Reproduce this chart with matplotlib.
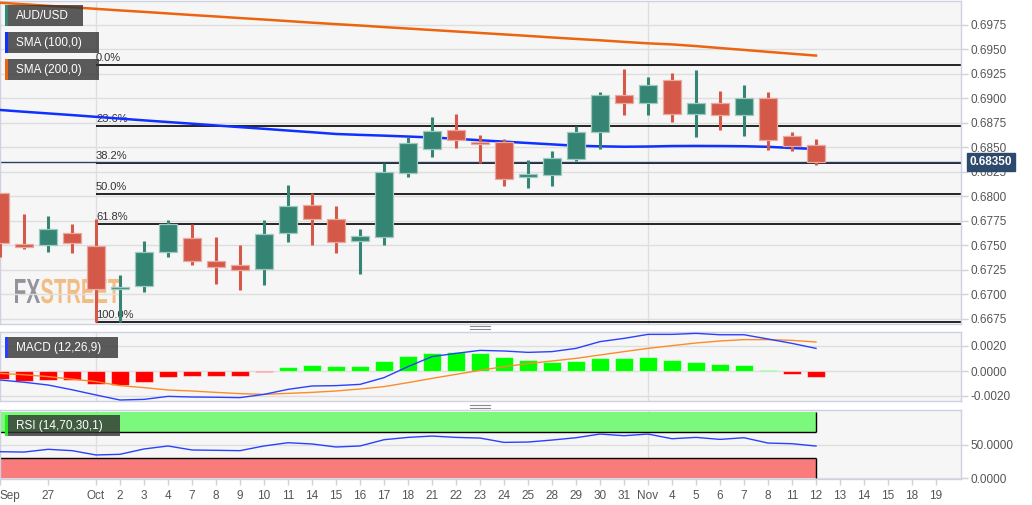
import numpy as np
import matplotlib
matplotlib.use('Agg')
import matplotlib.pyplot as plt
from matplotlib.patches import Rectangle, PathPatch
from matplotlib.textpath import TextPath
from matplotlib.font_manager import FontProperties
import matplotlib.transforms as mtransforms
from matplotlib.ticker import FormatStrFormatter
from matplotlib.lines import Line2D

plt.rcParams['font.family'] = ['Liberation Sans', 'DejaVu Sans']

# ---------------- data ----------------
x_labels = ['Sep', '', '27', '', 'Oct', '2', '3', '4', '7', '8', '9', '10', '11', '14', '15',
            '16', '17', '18', '21', '22', '23', '24', '25', '28', '29', '30', '31', 'Nov',
            '4', '5', '6', '7', '8', '11', '12', '13', '14', '15', '18', '19']

opens = [0.68031, 0.67507, 0.67497, 0.67619, 0.67487, 0.67050, 0.67083, 0.67426, 0.67572,
         0.67340, 0.67293, 0.67258, 0.67619, 0.67905, 0.67768, 0.67544, 0.67579, 0.68238,
         0.68480, 0.68673, 0.68548, 0.68554, 0.68194, 0.68214, 0.68375, 0.68650, 0.69034,
         0.68946, 0.69184, 0.68834, 0.68946, 0.68830, 0.69000, 0.68612, 0.68517]
highs = [0.68031, 0.67817, 0.67796, 0.67714, 0.67765, 0.67191, 0.67541, 0.67755, 0.67714,
         0.67582, 0.67500, 0.67755, 0.68112, 0.68028, 0.67898, 0.67663, 0.68334, 0.68599,
         0.68809, 0.68837, 0.68622, 0.68582, 0.68367, 0.68459, 0.68717, 0.69061, 0.69296,
         0.69211, 0.69255, 0.69286, 0.69071, 0.69133, 0.69061, 0.68653, 0.68585]
lows = [0.67378, 0.67456, 0.67432, 0.67415, 0.66711, 0.66715, 0.67023, 0.67381, 0.67296,
        0.67105, 0.67041, 0.67092, 0.67534, 0.67500, 0.67421, 0.67204, 0.67500, 0.68197,
        0.68401, 0.68493, 0.68334, 0.68105, 0.68085, 0.68105, 0.68354, 0.68480, 0.68827,
        0.68827, 0.68758, 0.68605, 0.68673, 0.68615, 0.68472, 0.68459, 0.68319]
closes = [0.67520, 0.67483, 0.67666, 0.67520, 0.67054, 0.67068, 0.67426, 0.67714, 0.67340,
          0.67279, 0.67242, 0.67612, 0.67895, 0.67765, 0.67531, 0.67592, 0.68245, 0.68544,
          0.68663, 0.68574, 0.68534, 0.68173, 0.68228, 0.68388, 0.68650, 0.69034, 0.68946,
          0.69130, 0.68834, 0.68946, 0.68830, 0.69000, 0.68571, 0.68513, 0.68350]

sma100 = [0.68878, 0.68860, 0.68843, 0.68826, 0.68808, 0.68790, 0.68772, 0.68755, 0.68738,
          0.68720, 0.68703, 0.68686, 0.68668, 0.68651, 0.68633, 0.68624, 0.68616, 0.68607,
          0.68597, 0.68584, 0.68569, 0.68555, 0.68541, 0.68527, 0.68513, 0.68507, 0.68503,
          0.68505, 0.68510, 0.68511, 0.68510, 0.68508, 0.68502, 0.68490, 0.68480]
sma200 = [0.69972, 0.69957, 0.69941, 0.69926, 0.69910, 0.69894, 0.69879, 0.69863, 0.69847,
          0.69832, 0.69816, 0.69801, 0.69785, 0.69769, 0.69754, 0.69740, 0.69724, 0.69709,
          0.69694, 0.69679, 0.69664, 0.69649, 0.69634, 0.69618, 0.69603, 0.69589, 0.69573,
          0.69558, 0.69547, 0.69530, 0.69510, 0.69491, 0.69471, 0.69452, 0.69433]

fib_high = 0.69334
fib_low = 0.66711
fib_ratios = [0.0, 0.236, 0.382, 0.5, 0.618, 1.0]
fib_labels = ['0.0%', '23.6%', '38.2%', '50.0%', '61.8%', '100.0%']
last_price = 0.68350

macd_line = [-0.00072, -0.00090, -0.00112, -0.00150, -0.00192, -0.00232, -0.00227, -0.00203,
             -0.00208, -0.00210, -0.00213, -0.00187, -0.00147, -0.00120, -0.00117, -0.00107,
             -0.00053, 0.00035, 0.00115, 0.00141, 0.00165, 0.00160, 0.00149, 0.00155,
             0.00181, 0.00235, 0.00261, 0.00293, 0.00293, 0.00301, 0.00290, 0.00290,
             0.00256, 0.00221, 0.00181]
signal_line = [-0.00019, -0.00030, -0.00045, -0.00065, -0.00085, -0.00117, -0.00133, -0.00152,
               -0.00160, -0.00171, -0.00181, -0.00187, -0.00179, -0.00171, -0.00160, -0.00144,
               -0.00125, -0.00093, -0.00059, -0.00027, 0.00005, 0.00035, 0.00059, 0.00080,
               0.00101, 0.00128, 0.00155, 0.00181, 0.00203, 0.00224, 0.00240, 0.00251,
               0.00251, 0.00245, 0.00232]
macd_hist = [-0.00064, -0.00080, -0.00075, -0.00075, -0.00101, -0.00112, -0.00085, -0.00048,
             -0.00043, -0.00040, -0.00037, -0.00008, 0.00029, 0.00045, 0.00040, 0.00040,
             0.00080, 0.00120, 0.00147, 0.00152, 0.00144, 0.00109, 0.00088, 0.00075,
             0.00083, 0.00104, 0.00104, 0.00112, 0.00091, 0.00075, 0.00056, 0.00048,
             0.00010, -0.00021, -0.00051]

rsi = [39.9, 39.4, 43.5, 41.5, 35.0, 36.0, 44.0, 48.5, 42.5, 42.0, 41.5, 48.5, 53.4, 51.5,
       47.0, 48.5, 57.9, 61.4, 63.4, 61.4, 60.4, 53.9, 54.4, 57.4, 60.9, 66.4, 63.9, 66.4,
       59.4, 61.4, 58.4, 60.9, 52.9, 51.9, 48.4]
rsi_upper, rsi_lower = 70, 30

# ---------------- layout ----------------
W, H = 1032, 505
fig = plt.figure(figsize=(W / 100, H / 100), dpi=100, facecolor='white')


def fx(x):
    return x / W


def fy(y):
    return 1 - y / H


def add_ax(top, bottom, right=961):
    return fig.add_axes([0, fy(bottom), fx(right), (bottom - top) / H])


ax = add_ax(1, 324)
axm = add_ax(332, 401)
axr = add_ax(410, 479)

n = len(opens)
idx = np.arange(n)
XMAX = 961 / 24.0
BG = '#f6f6f6'
GRID = '#dedede'
SPINE = '#cdd1e1'
TXT = '#555555'
GREEN = '#358574'
RED = '#d45948'

for a in (ax, axm, axr):
    a.set_facecolor(BG)
    a.set_xlim(0, XMAX)
    for s in a.spines.values():
        s.set_color(SPINE)
        s.set_linewidth(1)
    a.yaxis.tick_right()
    a.tick_params(axis='y', colors=SPINE, labelcolor=TXT, labelsize=8.5, length=5, width=1, pad=2)
    a.set_xticks([i for i, l in enumerate(x_labels) if l])
    a.axvline(4, color=GRID, lw=1, zorder=0)
    a.axvline(27, color=GRID, lw=1, zorder=0)
    a.set_axisbelow(True)

# ---------------- main price panel ----------------
ax.set_ylim(0.66694, 0.69990)
yt = np.arange(0.6675, 0.69751, 0.0025)
ax.set_yticks(yt)
ax.yaxis.set_major_formatter(FormatStrFormatter('%.4f'))
ax.grid(axis='y', color=GRID, lw=1)
ax.tick_params(axis='x', length=0, labelbottom=False)

# watermark
fp = FontProperties(family='Liberation Sans', weight='bold')


def watermark(txt, x0, width, color):
    tp = TextPath((0, 0), txt, size=1, prop=fp)
    ext = tp.get_extents()
    sx = width / ext.width
    sy = 25 / 0.716
    tr = mtransforms.Affine2D().translate(-ext.x0, 0).scale(sx / W, sy / H).translate(fx(x0), fy(303)) + fig.transFigure
    ax.add_patch(PathPatch(tp, transform=tr, facecolor=color, edgecolor='none', zorder=0.5))


watermark('FX', 15, 25, '#93939b')
watermark('STREET', 41, 79, '#f2bd84')

# fib levels
rng = fib_high - fib_low
for r, lab in zip(fib_ratios, fib_labels):
    lv = fib_high - r * rng
    ax.hlines(lv, 4, XMAX, color='black', lw=1.2, zorder=2)
    ax.annotate(lab, (4, lv), xytext=(0, 1.5), textcoords='offset points', fontsize=8,
                color='#333333', ha='left', va='bottom', zorder=2)

# SMAs
ax.plot(idx, sma200, color='#ec6410', lw=1.8, zorder=3)
ax.plot(idx, sma100, color='#1030ff', lw=1.8, zorder=3)

# current price line
ax.axhline(last_price, color='#2b3f63', lw=1, zorder=2)

# candles
o = np.array(opens); c = np.array(closes)
up = c >= o
cols = np.where(up, GREEN, RED)
edges = np.where(up, '#9ccabf', '#eba89e')
ax.vlines(idx, lows, highs, colors=cols, lw=2.2, zorder=4)
ax.bar(idx, np.maximum(np.abs(c - o), 0.00005), bottom=np.minimum(o, c), width=0.79,
       color=cols, edgecolor=edges, linewidth=0.9, zorder=5)

# price tag
trans = mtransforms.blended_transform_factory(ax.transAxes, ax.transData)
ax.text(1.009, last_price, '0.68350', transform=trans, color='white', fontsize=8.5,
        fontweight='bold', ha='left', va='center', zorder=20, clip_on=False,
        bbox=dict(boxstyle='square,pad=0.25', facecolor='#2d4a6c', edgecolor='#2d4a6c'))

# ---------------- MACD panel ----------------
axm.set_ylim(-0.0024, 0.00312)
axm.set_yticks([-0.002, 0.0, 0.002])
axm.yaxis.set_major_formatter(FormatStrFormatter('%.4f'))
axm.grid(axis='y', color=GRID, lw=1)
axm.tick_params(axis='x', length=0, labelbottom=False)
h = np.array(macd_hist)
hcols = np.where(h >= 0, '#00ff00', '#ff0000')
axm.bar(idx, h, width=0.79, color=hcols, edgecolor=(1, 1, 1, 0.5), linewidth=0.8, zorder=3)
axm.plot(idx, signal_line, color='#ff8a2a', lw=1, zorder=4)
axm.plot(idx, macd_line, color='#2a40ff', lw=1, zorder=4)

# ---------------- RSI panel ----------------
axr.set_ylim(-1.05, 102.5)
axr.set_yticks([0, 50])
axr.yaxis.set_major_formatter(FormatStrFormatter('%.4f'))
axr.grid(axis='y', color=GRID, lw=1)
axr.fill_between([-1, n - 1], rsi_upper, 99, color='#7cf97c', zorder=1, linewidth=0)
axr.fill_between([-1, n - 1], 0, rsi_lower, color='#f97b7b', zorder=1, linewidth=0)
axr.hlines([rsi_upper, rsi_lower], -1, n - 1, color='black', lw=1, zorder=2)
axr.vlines(n - 1, rsi_upper, 99, color='black', lw=1, zorder=2)
axr.vlines(n - 1, 0, rsi_lower, color='black', lw=1, zorder=2)
axr.plot(idx, rsi, color='#2a40ff', lw=1, zorder=3)
axr.set_xticklabels([l for l in x_labels if l])
axr.tick_params(axis='x', colors=SPINE, labelcolor=TXT, labelsize=8.5, length=4, width=1, pad=4)
axr.get_xticklabels()[0].set_horizontalalignment('left')

# ---------------- legend boxes ----------------

def legend_box(x0, y0, x1, y1, text, stripe):
    fig.add_artist(Rectangle((fx(x0), fy(y1)), (x1 - x0) / W, (y1 - y0) / H, transform=fig.transFigure,
                             facecolor='#333333', alpha=0.8, edgecolor='none', zorder=10))
    fig.add_artist(Rectangle((fx(x0), fy(y1)), 3 / W, (y1 - y0) / H, transform=fig.transFigure,
                             facecolor=stripe, edgecolor='none', zorder=11))
    fig.text(fx(x0 + 11), fy((y0 + y1) / 2 + 0.5), text, color='white', fontsize=8.5,
             va='center', ha='left', zorder=12)


legend_box(5, 5, 83, 26, 'AUD/USD', GREEN)
legend_box(5, 32, 99, 53, 'SMA (100,0)', '#1030ff')
legend_box(5, 59, 99, 80, 'SMA (200,0)', '#ec6410')
legend_box(5, 337, 118, 358, 'MACD (12,26,9)', '#2a40ff')
legend_box(5, 415, 120, 436, 'RSI (14,70,30,1)', '#22ee22')

# separator handles
for yy in (326, 328.5, 405, 407.5):
    fig.add_artist(Line2D([fx(470), fx(490)], [fy(yy), fy(yy)], transform=fig.transFigure,
                          color='#8a8a8a', lw=0.8))

fig.savefig('out.png', dpi=100, facecolor='white')
